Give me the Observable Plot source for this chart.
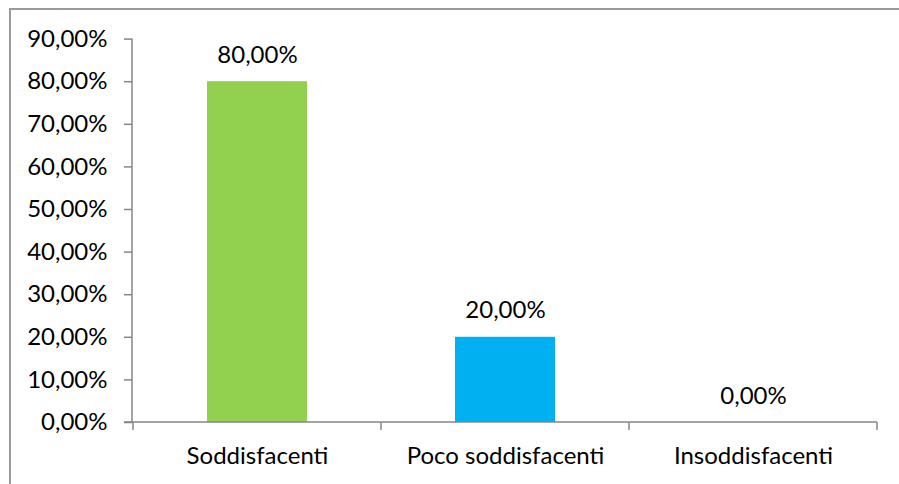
<!DOCTYPE html>
<html>
<head>
<meta charset="utf-8">
<script src="https://cdn.jsdelivr.net/npm/d3@7"></script>
<script src="https://cdn.jsdelivr.net/npm/@observablehq/plot@0.6"></script>
<style>
  html, body { margin: 0; padding: 0; background: #fff; }
  #wrap { position: relative; width: 899px; height: 484px; overflow: hidden; font-family: Lato, "Open Sans", sans-serif; }
  #frame { position: absolute; left: 9px; top: 8px; width: 900px; height: 490px; border-left: 2px solid #9a9a9a; border-top: 2px solid #9a9a9a; box-sizing: border-box; pointer-events: none; }
  #chart { position: absolute; left: 0; top: 0; }
</style>
</head>
<body>
<div id="wrap"><div id="chart"></div><div id="frame"></div></div>
<script>
const categories = ["Soddisfacenti", "Poco soddisfacenti", "Insoddisfacenti"];
const values = [0.80, 0.20, 0.00];
const colors = ["#92D050", "#00B0F0", "#A5A5A5"];
const yTicks = [0, 0.1, 0.2, 0.3, 0.4, 0.5, 0.6, 0.7, 0.8, 0.9];

const data = categories.map((c, i) => ({category: c, value: values[i], color: colors[i]}));
const fmt = d => (d * 100).toFixed(2).replace(".", ",") + "%";
const axisColor = "#868686";

function boundaryTicks(index, scales, values, dims) {
  const x = scales.x, y = scales.y;
  const bw = typeof x.bandwidth === "function" ? x.bandwidth() : x.bandwidth;
  const step = typeof x.step === "function" ? x.step() : (dims.width - dims.marginLeft - dims.marginRight) / categories.length;
  const g = d3.create("svg:g").attr("stroke", axisColor).attr("stroke-width", 1.5);
  const y0 = y(0);
  const xs = categories.map(c => x(c) + bw / 2 - step / 2);
  xs.push(x(categories[categories.length - 1]) + bw / 2 + step / 2);
  for (const px of xs) g.append("line").attr("x1", px).attr("x2", px).attr("y1", y0).attr("y2", y0 + 8);
  g.append("line").attr("x1", dims.marginLeft - 8).attr("x2", dims.width - dims.marginRight).attr("y1", y0).attr("y2", y0);
  g.append("line").attr("x1", dims.marginLeft).attr("x2", dims.marginLeft).attr("y1", y(yTicks[yTicks.length - 1])).attr("y2", y0);
  return g.node();
}

const plot = Plot.plot({
  width: 899,
  height: 484,
  marginLeft: 132,
  marginRight: 22,
  marginTop: 38.6,
  marginBottom: 62,
  style: {fontFamily: "Lato, 'Open Sans', sans-serif", fontSize: "24px", color: "#000", background: "transparent", overflow: "visible"},
  x: {domain: categories, paddingInner: 0.597, paddingOuter: 0.2985, label: null},
  y: {domain: [0, 0.9], label: null},
  marks: [
    Plot.barY(data, {x: "category", y: "value", fill: "color"}),
    Plot.axisY({ticks: yTicks, tickFormat: fmt, tickSize: 8, tickPadding: 17, stroke: axisColor, strokeWidth: 1.5, fill: "#000", fontSize: 24, label: null}),
    Plot.axisX({tickSize: 0, tickPadding: 24, fill: "#000", fontSize: 24, label: null}),
    boundaryTicks,
    Plot.text(data, {x: "category", y: "value", text: d => fmt(d.value), lineAnchor: "bottom", dy: -19, fill: "#000", fontSize: 24})
  ]
});
document.getElementById("chart").appendChild(plot);
</script>
</body>
</html>
